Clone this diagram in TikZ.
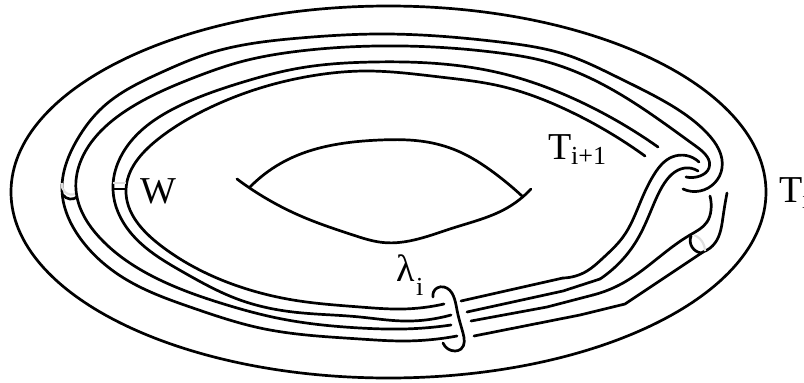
\documentclass[tikz,border=0pt]{standalone}
\usepackage{fontspec}
\setmainfont{Liberation Serif}
\usetikzlibrary{hobby}
\tikzset{
  strand/.style={line width=2.7pt,black,line join=round,line cap=round,use Hobby shortcut},
  ghost/.style={line width=2.2pt,black!13,use Hobby shortcut},
  big/.style={inner sep=0pt,anchor=base west,font=\fontsize{38}{38}\selectfont},
  small/.style={inner sep=0pt,anchor=base west,font=\fontsize{26}{26}\selectfont}
}
\begin{document}
\begin{tikzpicture}[x=1pt,y=-1pt]
\useasboundingbox (0,0) rectangle (804,383);
\clip (0,0) rectangle (804,383);
% outer boundary
\draw[line width=2.7pt] (388.5,192) ellipse [x radius=377.5,y radius=186];
% hole
\draw[strand] (250,187)..(287,160)..(333,145)..(380,140)..(427,142)..(460,152)..(493,172)..(522,196);
\draw[strand] (237,179)..(303,217)..(353,235)..(383,242.5)..(453,228)..(507,208)..(531,189);
% long strands
\draw[strand] (457,336)..(403,341)..(360,339)..(260,328)..(193,308)..(127,280)..(80,238)..(62,190)..(77,140)..(103,107)..(160,73)..(210,53)..(300,38)..(377,34)..(500,42)..(567,55)..(617,77)..(662,100)..(707,133)..(722,168)..(700,191)..(683,189);
\draw[strand] (451,325)..(403,329)..(360,328)..(277,318)..(227,305)..(160,280)..(100,238)..(76,190)..(93,140)..(127,110)..(193,78)..(240,62)..(300,51)..(377,46)..(500,53)..(540,60)..(600,83)..(645,110)..(697,147)..(709,168)..(700,176)..(686,177);
\draw[strand] (451,315)..(403,321)..(360,317)..(293,312)..(240,300)..(183,272)..(130,232)..(113,190)..(132,140)..(177,107)..(240,83)..(300,68)..(373,62)..(500,73)..(583,103)..(658,147);
\draw[strand] (444,304)..(403,309)..(360,307)..(293,300)..(250,290)..(160,245)..(126,190)..(157,140)..(207,109)..(317,75)..(365,71)..(440,77)..(500,86)..(567,110)..(645,156);
% right strands
\draw[line width=2.7pt,line cap=round,line join=round] (461,301) -- (563,278);
\draw[strand] (563,278)..(587,271)..(603,258)..(623,237)..(640,203)..(655,173)..(672,157)..(699,162);
\draw[line width=2.7pt,line cap=round,line join=round] (467,312) -- (563,291) -- (600,279);
\draw[strand] (600,279)..(637,240)..(650,213)..(662,187)..(685,168)..(698,171);
\draw[line width=2.7pt,line cap=round,line join=round] (471,321) -- (547,307) -- (593,295);
\draw[strand] (593,295)..(623,283)..(653,262)..(690,235)..(707,222)..(711,210)..(710,196);
\draw[line width=2.7pt,line cap=round,line join=round] (474,336) -- (580,315) -- (625,304) -- (703,252);
\draw[strand] (703,252)..(715,243)..(723,217)..(727,193);
% cross marks
\draw[ghost] (694,235)..(703,243)..(705,251);
\draw[strand] (691,236)..(692,247)..(702,253);
\draw[ghost] (62,183)..(65,192)..(75,194);
\draw[strand] (63,195)..(70,199)..(77,197);
\draw[ghost] (113,183) -- (126,183);
\draw[line width=2.7pt] (113,189) -- (126,189);
% lambda loop
\draw[strand] (433,297)..(437,288)..(444,287)..(457,310)..(463,333)..(461,349)..(455,351)..(443,343);
% labels
\node[big] (tnext) at (548,159) {T};
\node[small] (tnexts) at (571,164) {i+1};
\node[big] (ti) at (779,202) {T};
\node[small] (tis) at (802,208) {i};
\node[big] (w) at (140,203) {W};
\node[big] (lam) at (396,281) {λ};
\node[small] (lams) at (416,295) {i};
\end{tikzpicture}
\end{document}
